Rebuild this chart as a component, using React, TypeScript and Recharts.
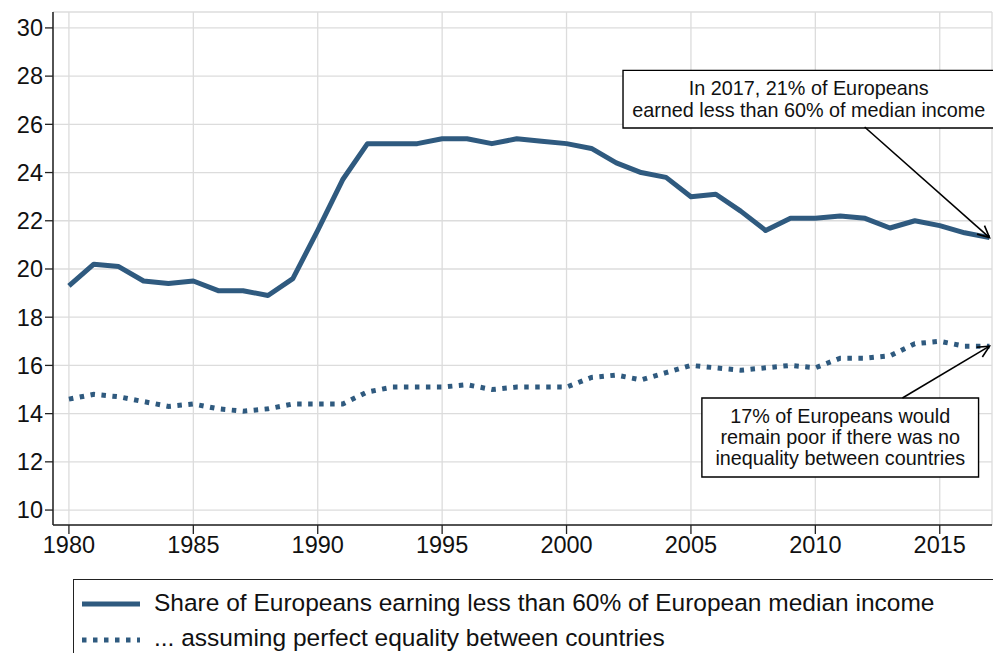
import React from "react";
import {
  LineChart,
  Line,
  XAxis,
  YAxis,
  CartesianGrid,
  ReferenceArea,
  ReferenceLine,
} from "recharts";

const years = [
  1980, 1981, 1982, 1983, 1984, 1985, 1986, 1987, 1988, 1989, 1990, 1991, 1992,
  1993, 1994, 1995, 1996, 1997, 1998, 1999, 2000, 2001, 2002, 2003, 2004, 2005,
  2006, 2007, 2008, 2009, 2010, 2011, 2012, 2013, 2014, 2015, 2016, 2017,
];
const sharePoor = [
  19.3, 20.2, 20.1, 19.5, 19.4, 19.5, 19.1, 19.1, 18.9, 19.6, 21.6, 23.7, 25.2,
  25.2, 25.2, 25.4, 25.4, 25.2, 25.4, 25.3, 25.2, 25.0, 24.4, 24.0, 23.8, 23.0,
  23.1, 22.4, 21.6, 22.1, 22.1, 22.2, 22.1, 21.7, 22.0, 21.8, 21.5, 21.3,
];
const equalCountries = [
  14.6, 14.8, 14.7, 14.5, 14.3, 14.4, 14.2, 14.1, 14.2, 14.4, 14.4, 14.4, 14.9,
  15.1, 15.1, 15.1, 15.2, 15.0, 15.1, 15.1, 15.1, 15.5, 15.6, 15.4, 15.7, 16.0,
  15.9, 15.8, 15.9, 16.0, 15.9, 16.3, 16.3, 16.4, 16.9, 17.0, 16.8, 16.8,
];
const xTicks = [1980, 1985, 1990, 1995, 2000, 2005, 2010, 2015];
const yTicks = [10, 12, 14, 16, 18, 20, 22, 24, 26, 28, 30];

const note1 = ["In 2017, 21% of Europeans", "earned less than 60% of median income"];
const note2 = ["17% of Europeans would", "remain poor if there was no", "inequality between countries"];

const data = years.map((year, i) => ({
  year,
  share: sharePoor[i],
  equal: equalCountries[i],
}));

const BLUE = "#2f5a7f";
const FONT = "'Liberation Sans', Arial, Helvetica, sans-serif";

// arrow drawn from (x1,y1) to (x2,y2) with an open head at the end
const Arrow = (props: any) => {
  const { x1, y1, x2, y2 } = props;
  const ang = Math.atan2(y2 - y1, x2 - x1);
  const len = 13;
  const spread = 0.45;
  const ax = x2 - len * Math.cos(ang - spread);
  const ay = y2 - len * Math.sin(ang - spread);
  const bx = x2 - len * Math.cos(ang + spread);
  const by = y2 - len * Math.sin(ang + spread);
  return (
    <g>
      <line x1={x1} y1={y1} x2={x2} y2={y2} stroke="#000" strokeWidth={1.6} />
      <polyline
        points={`${ax},${ay} ${x2},${y2} ${bx},${by}`}
        fill="none"
        stroke="#000"
        strokeWidth={1.6}
      />
    </g>
  );
};

const noteLabel = (lines: string[], lineH: number) => (props: any) => {
  const { viewBox } = props;
  const cx = viewBox.x + viewBox.width / 2;
  const cy = viewBox.y + viewBox.height / 2;
  const start = cy - ((lines.length - 1) * lineH) / 2;
  return (
    <text
      x={cx}
      y={start}
      textAnchor="middle"
      dominantBaseline="central"
      fontFamily={FONT}
      fontSize={19.8}
      fill="#111"
    >
      {lines.map((l, i) => (
        <tspan key={i} x={cx} y={start + i * lineH}>
          {l}
        </tspan>
      ))}
    </text>
  );
};

export default function App() {
  return (
    <div style={{ position: "absolute", left: 0, top: 0, width: 993, height: 653, background: "#fff", overflow: "hidden" }}>
      <LineChart
        width={993}
        height={653}
        data={data}
        margin={{ top: 12, right: 1, bottom: 98, left: 0 }}
      >
        <CartesianGrid stroke="#dcdcdc" strokeWidth={1.3} />
        <XAxis
          dataKey="year"
          type="number"
          domain={[1979.36, 2017.1]}
          ticks={xTicks}
          height={30}
          axisLine={{ stroke: "#222", strokeWidth: 1.5 }}
          tickLine={{ stroke: "#222", strokeWidth: 1.3 }}
          tickSize={9}
          tick={{ fill: "#111", fontSize: 23.5, fontFamily: FONT }}
          allowDataOverflow
        />
        <YAxis
          type="number"
          domain={[9.38, 30.66]}
          ticks={yTicks}
          width={53}
          axisLine={{ stroke: "#222", strokeWidth: 1.5 }}
          tickLine={{ stroke: "#222", strokeWidth: 1.3 }}
          tickSize={8}
          tick={{ fill: "#111", fontSize: 23.5, fontFamily: FONT }}
          allowDataOverflow
        />
        <Line
          dataKey="share"
          stroke={BLUE}
          strokeWidth={5}
          dot={false}
          isAnimationActive={false}
          strokeLinejoin="round"
        />
        <Line
          dataKey="equal"
          stroke={BLUE}
          strokeWidth={5}
          strokeDasharray="4.5 6.5"
          dot={false}
          isAnimationActive={false}
        />
        <ReferenceLine
          segment={[
            { x: 2011.98, y: 25.89 },
            { x: 2017, y: 21.3 },
          ]}
          shape={<Arrow />}
          ifOverflow="visible"
        />
        <ReferenceLine
          segment={[
            { x: 2013.5, y: 14.65 },
            { x: 2017, y: 16.8 },
          ]}
          shape={<Arrow />}
          ifOverflow="visible"
        />
        <ReferenceArea
          x1={2002.27}
          x2={2017.2}
          y1={25.85}
          y2={28.24}
          fill="#fff"
          fillOpacity={1}
          stroke="#000"
          strokeWidth={1.4}
          ifOverflow="visible"
          label={noteLabel(note1, 21.5)}
        />
        <ReferenceArea
          x1={2005.44}
          x2={2016.56}
          y1={11.37}
          y2={14.65}
          fill="#fff"
          fillOpacity={1}
          stroke="#000"
          strokeWidth={1.4}
          ifOverflow="visible"
          label={noteLabel(note2, 21)}
        />
      </LineChart>
      <div
        style={{
          position: "absolute",
          left: 73,
          top: 579,
          width: 930,
          height: 100,
          border: "1.5px solid #222",
          boxSizing: "border-box",
          fontFamily: FONT,
          fontSize: 24.5,
          color: "#111",
        }}
      >
        <svg width={70} height={80} style={{ position: "absolute", left: 8, top: 8 }}>
          <line x1={0} y1={16} x2={58} y2={16} stroke={BLUE} strokeWidth={5} />
          <line x1={0} y1={52} x2={58} y2={52} stroke={BLUE} strokeWidth={5} strokeDasharray="4.5 6.5" />
        </svg>
        <div style={{ position: "absolute", left: 80, top: 8, whiteSpace: "nowrap", lineHeight: "30px" }}>
          Share of Europeans earning less than 60% of European median income
        </div>
        <div style={{ position: "absolute", left: 80, top: 43, whiteSpace: "nowrap", lineHeight: "30px" }}>
          ... assuming perfect equality between countries
        </div>
      </div>
    </div>
  );
}
